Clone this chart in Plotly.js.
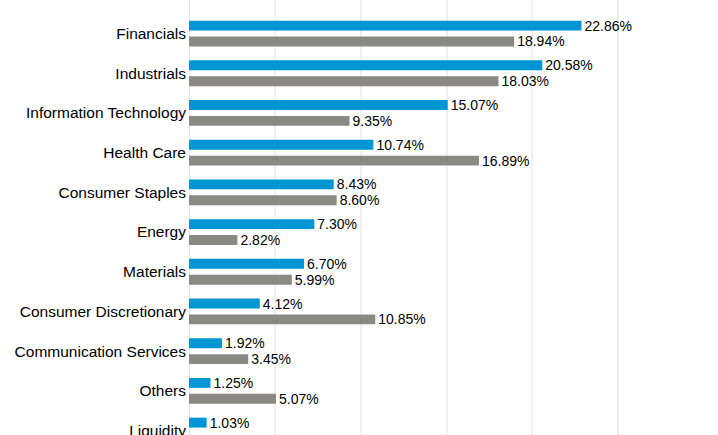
<!DOCTYPE html>
<html>
<head>
<meta charset="utf-8">
<script src="https://cdn.plot.ly/plotly-3.0.1.min.js"></script>
<style>
html,body{margin:0;padding:0;overflow:hidden;background:#fff;}
#chart{width:718px;height:435px;}
</style>
</head>
<body>
<div id="chart"></div>
<script>
const categories = ["Financials","Industrials","Information Technology","Health Care","Consumer Staples","Energy","Materials","Consumer Discretionary","Communication Services","Others","Liquidity"];
const fundValues = [22.86,20.58,15.07,10.74,8.43,7.30,6.70,4.12,1.92,1.25,1.03];
const benchValues = [18.94,18.03,9.35,16.89,8.60,2.82,5.99,10.85,3.45,5.07,null];

const fmt = v => v == null ? "" : v.toFixed(2) + "%";
const FONT = "Liberation Sans, Arial, sans-serif";

const traceFund = {
  type: "bar", orientation: "h", name: "Fund",
  y: categories, x: fundValues,
  marker: {color: "#0096d6"},
  text: fundValues.map(fmt), textposition: "outside", cliponaxis: false,
  constraintext: "none",
  textfont: {family: FONT, size: 14, color: "#000"},
  hoverinfo: "none"
};
const traceBench = {
  type: "bar", orientation: "h", name: "Benchmark",
  y: categories, x: benchValues,
  marker: {color: "#8a8984"},
  text: benchValues.map(fmt), textposition: "outside", cliponaxis: false,
  constraintext: "none",
  textfont: {family: FONT, size: 14, color: "#000"},
  hoverinfo: "none"
};

const layout = {
  width: 718, height: 435,
  margin: {l: 189, r: 14, t: 0, b: 0, pad: 0},
  paper_bgcolor: "#fff", plot_bgcolor: "#fff",
  showlegend: false,
  barmode: "group", bargap: 0.2, bargroupgap: 0.375,
  font: {family: FONT, size: 14, color: "#000"},
  xaxis: {
    range: [0, 30], dtick: 5, showticklabels: false,
    showgrid: true, gridcolor: "#f0f0f0", gridwidth: 2,
    zeroline: true, zerolinecolor: "#e6e6e6", zerolinewidth: 1,
    fixedrange: true
  },
  yaxis: {
    type: "category", autorange: false, range: [10.112, -0.845],
    showgrid: false, zeroline: false, ticks: "",
    tickfont: {family: FONT, size: 15.5, color: "#000"},
    ticklabelstandoff: 2,
    fixedrange: true
  }
};

Plotly.newPlot("chart", [traceFund, traceBench], layout, {staticPlot: true, displayModeBar: false});
</script>
</body>
</html>
